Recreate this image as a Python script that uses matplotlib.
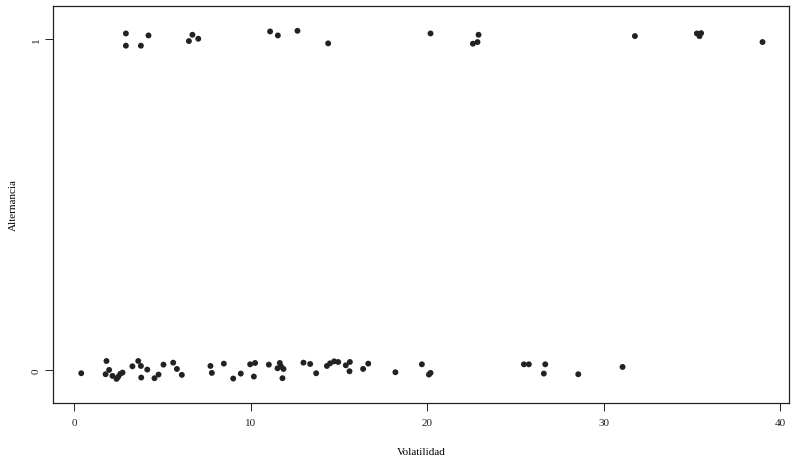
"""Alternancia vs Volatilidad, R-style jittered strip plot."""

import matplotlib
matplotlib.use("Agg")
import matplotlib.pyplot as plt

# Puntos con alternancia = 1 (jitter vertical)
vol_uno = [2.93, 2.93, 4.21, 3.78, 6.70, 6.50, 7.03, 11.10, 11.54, 12.65,
           14.39, 20.19, 22.91, 22.59, 22.85, 31.77, 35.28, 35.52, 35.43, 39.0]
alt_uno = [1.017, 0.980, 1.011, 0.980, 1.013, 0.994, 1.001, 1.023, 1.011, 1.025,
           0.987, 1.017, 1.013, 0.986, 0.991, 1.009, 1.017, 1.018, 1.009, 0.991]

# Puntos con alternancia = 0
vol_cero = [0.40, 1.83, 1.98, 1.78, 2.17, 2.40, 2.49, 2.61, 2.74, 3.30,
            3.63, 3.78, 3.80, 4.14, 4.55, 4.78, 5.06, 5.61, 5.82, 6.10,
            7.72, 7.80, 8.48, 9.01, 9.44, 9.97, 10.25, 10.18, 11.03, 11.65,
            11.73, 11.52, 11.86, 11.80, 12.99, 13.37, 13.71, 14.32, 14.50, 14.73,
            14.96, 15.39, 15.62, 15.60, 16.37, 16.66, 18.20, 19.70, 20.19, 20.10,
            25.48, 25.76, 26.69, 26.61, 28.56, 31.07]
alt_cero = [-0.010, 0.027, 0.000, -0.013, -0.018, -0.027, -0.021, -0.012, -0.008, 0.011,
            0.027, 0.012, -0.023, 0.001, -0.025, -0.014, 0.016, 0.022, 0.003, -0.015,
            0.012, -0.009, 0.019, -0.026, -0.011, 0.017, 0.021, -0.020, 0.016, 0.021,
            0.010, 0.005, 0.003, -0.025, 0.022, 0.018, -0.010, 0.012, 0.020, 0.026,
            0.024, 0.014, 0.024, -0.004, 0.003, 0.019, -0.007, 0.017, -0.009, -0.014,
            0.017, 0.017, 0.017, -0.011, -0.013, 0.009]

x_ticks = [0, 10, 20, 30, 40]
y_ticks = [0, 1]

plt.rcParams['font.family'] = ['Liberation Serif', 'DejaVu Serif']

fig = plt.figure(figsize=(8, 4.6), dpi=100)
ax = fig.add_axes([0.06625, 0.1217, 0.92, 0.8631])

ax.scatter(vol_uno + vol_cero, alt_uno + alt_cero, s=18, color='#222222',
           edgecolors='none')

ax.set_xlim(-1.2, 40.5)
ax.set_ylim(-0.1, 1.1)
ax.set_xticks(x_ticks)
ax.set_yticks(y_ticks)
ax.set_xticklabels([str(t) for t in x_ticks], fontsize=8)
ax.set_yticklabels([str(t) for t in y_ticks], fontsize=8, rotation=90, va='center')
ax.tick_params(axis='x', direction='out', length=6, width=0.7, pad=5, colors='#222222')
ax.tick_params(axis='y', direction='out', length=6, width=0.7, pad=3, colors='#222222')

for sp in ax.spines.values():
    sp.set_linewidth(0.9)
    sp.set_color('#222222')

ax.set_xlabel('Volatilidad', fontsize=8, labelpad=14)
ax.set_ylabel('Alternancia', fontsize=8, labelpad=10)

fig.savefig('out.png', dpi=100)
plt.close(fig)
